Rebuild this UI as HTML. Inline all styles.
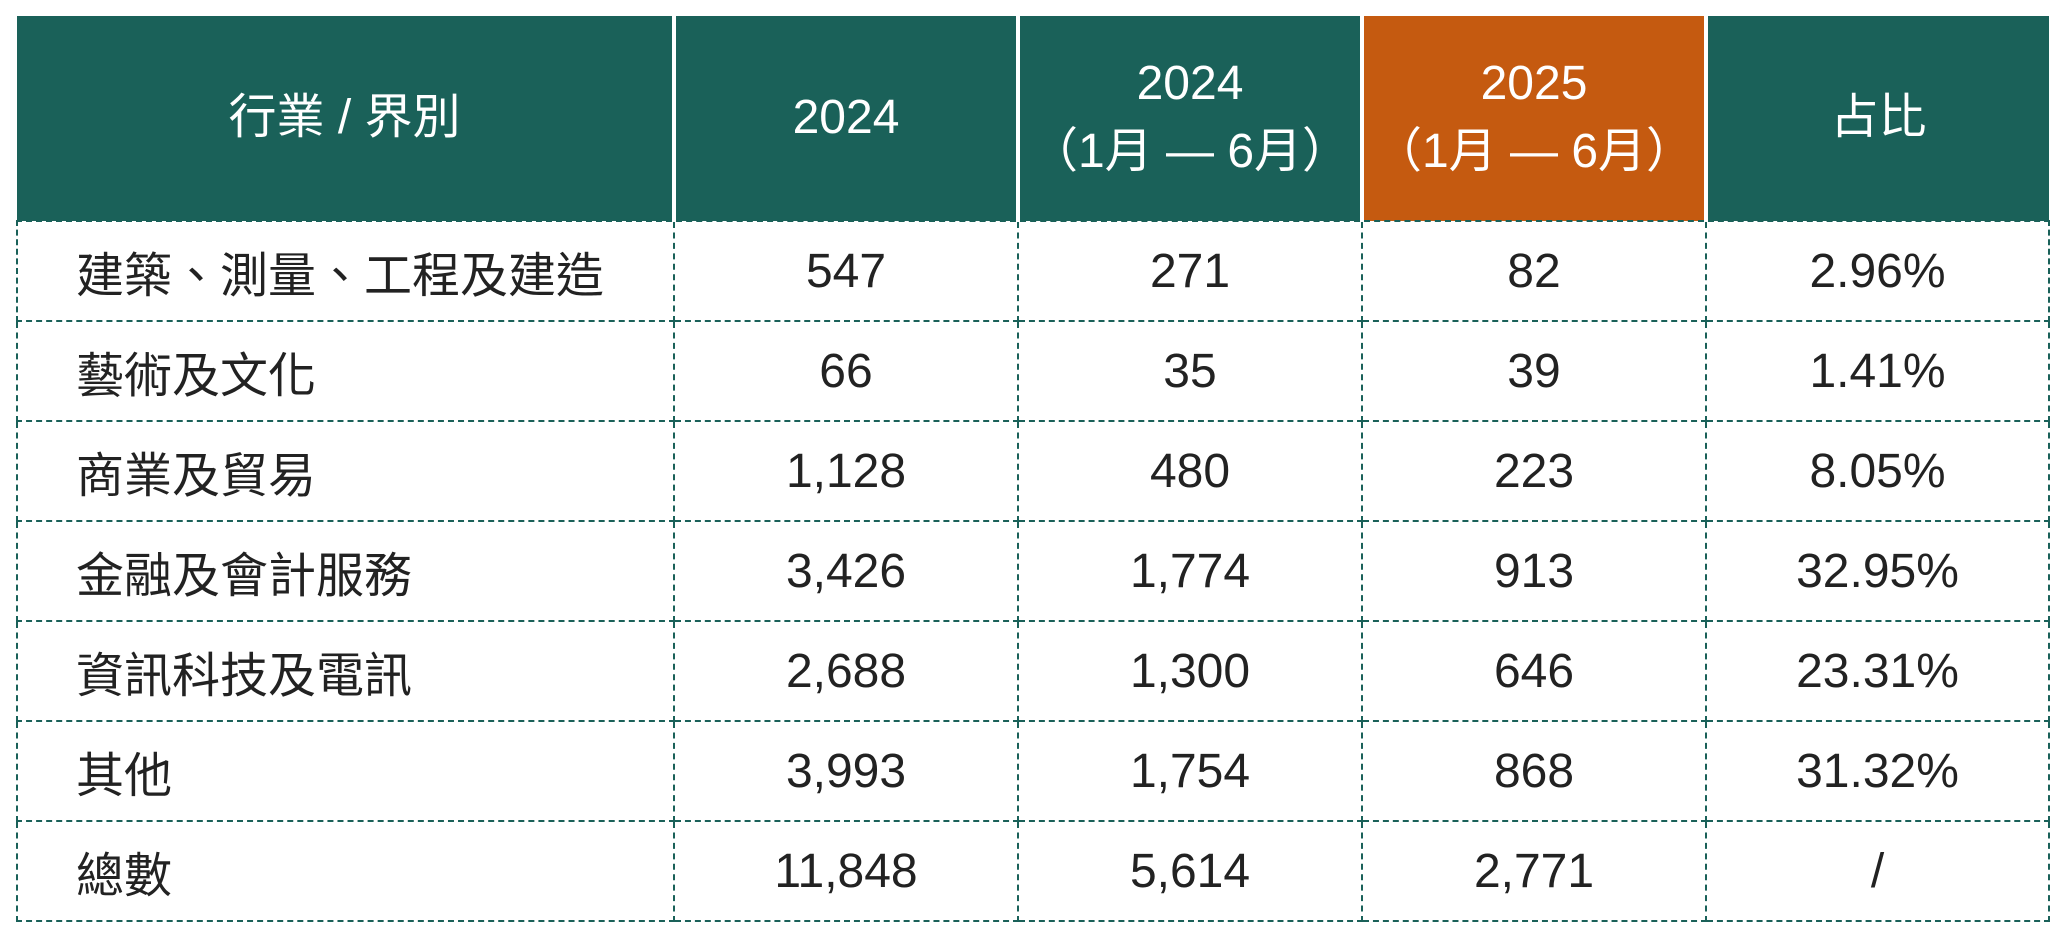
<!DOCTYPE html>
<html><head><meta charset="utf-8"><style>
html,body{margin:0;padding:0;background:#fff;width:2066px;height:936px;overflow:hidden}
table{position:absolute;left:16px;top:16px;border-collapse:collapse;table-layout:fixed;font-family:"Liberation Sans","Noto Sans CJK TC",sans-serif;font-size:48px;color:#222}
th{background:#1a6159;color:#fff;font-weight:normal;height:204px;padding:0;border-left:4px solid #fff;line-height:68px;text-align:center;font-size:48px}
th:first-child{border-left:none}
th.o{background:#c55a10}
td{height:98px;border:2px dashed #1a6159;text-align:center;padding:0}
td:first-child{text-align:left;padding-left:58px}
</style></head><body>
<table>
<colgroup><col style="width:657px"><col style="width:344px"><col style="width:344px"><col style="width:344px"><col style="width:343px"></colgroup>
<tr><th>行業 / 界別</th><th>2024</th><th>2024<br>（1月 — 6月）</th><th class="o">2025<br>（1月 — 6月）</th><th>占比</th></tr>
<tr><td>建築、測量、工程及建造</td><td>547</td><td>271</td><td>82</td><td>2.96%</td></tr>
<tr><td>藝術及文化</td><td>66</td><td>35</td><td>39</td><td>1.41%</td></tr>
<tr><td>商業及貿易</td><td>1,128</td><td>480</td><td>223</td><td>8.05%</td></tr>
<tr><td>金融及會計服務</td><td>3,426</td><td>1,774</td><td>913</td><td>32.95%</td></tr>
<tr><td>資訊科技及電訊</td><td>2,688</td><td>1,300</td><td>646</td><td>23.31%</td></tr>
<tr><td>其他</td><td>3,993</td><td>1,754</td><td>868</td><td>31.32%</td></tr>
<tr><td>總數</td><td>11,848</td><td>5,614</td><td>2,771</td><td>/</td></tr>
</table>
</body></html>
